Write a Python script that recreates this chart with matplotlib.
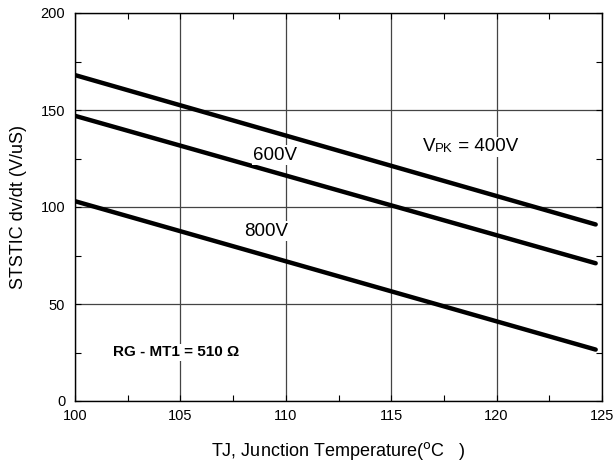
import matplotlib.pyplot as plt
from matplotlib.ticker import MultipleLocator

plt.rcParams['font.family'] = ['Liberation Sans', 'DejaVu Sans']

# data
tj = [100, 124.7]
dvdt_400 = [168, 91]
dvdt_600 = [147, 71]
dvdt_800 = [103, 26.5]

fig = plt.figure(figsize=(6.15, 4.67), dpi=100)
ax = fig.add_axes([75/615, 66/467, 527/615, 388/467])

for y in (dvdt_400, dvdt_600, dvdt_800):
    ax.plot(tj, y, color='black', lw=3.2, solid_capstyle='round', zorder=3)

ax.set_xlim(100, 125)
ax.set_ylim(0, 200)
ax.xaxis.set_major_locator(MultipleLocator(5))
ax.xaxis.set_minor_locator(MultipleLocator(2.5))
ax.yaxis.set_major_locator(MultipleLocator(50))
ax.yaxis.set_minor_locator(MultipleLocator(25))
ax.tick_params(which='both', direction='in', labelsize=10.5, length=4, width=0.8,
               top=True, right=True)
ax.tick_params(axis='x', pad=6)
ax.tick_params(axis='y', pad=7)
ax.grid(True, which='major', color='#444444', lw=0.9)
for s in ax.spines.values():
    s.set_linewidth(1.0)

def wbox():
    return dict(facecolor='white', edgecolor='none', pad=1)

ax.text(109.5, 126.8, '600V', fontsize=13.5, ha='center', va='center', bbox=wbox(), zorder=4)
ax.text(109.05, 87.6, '800V', fontsize=13.5, ha='center', va='center', bbox=wbox(), zorder=4)

# V_PK label: small caps "PK" on the same baseline
t = ax.text(116.5, 126.6, 'V', fontsize=13.5, ha='left', va='bottom', zorder=4, bbox=wbox())
t2 = ax.annotate('PK', xycoords=t, xy=(1, 0), va='bottom', ha='left', fontsize=9.5,
                 zorder=4, bbox=wbox())
ax.annotate(' = 400V', xycoords=t2, xy=(1, 0), va='bottom', ha='left', fontsize=13.5,
            zorder=4, bbox=wbox())

ax.text(101.8, 25, 'RG - MT1 = 510 Ω', fontsize=11, fontweight='bold',
        ha='left', va='center', bbox=wbox(), zorder=4)

ax.set_ylabel('STSTIC dv/dt (V/uS)', fontsize=13, labelpad=10)
ax.set_xlabel('TJ, Junction Temperature($^{\\rm o}$C   )', fontsize=13, labelpad=12)

fig.savefig('out.png', dpi=100)
